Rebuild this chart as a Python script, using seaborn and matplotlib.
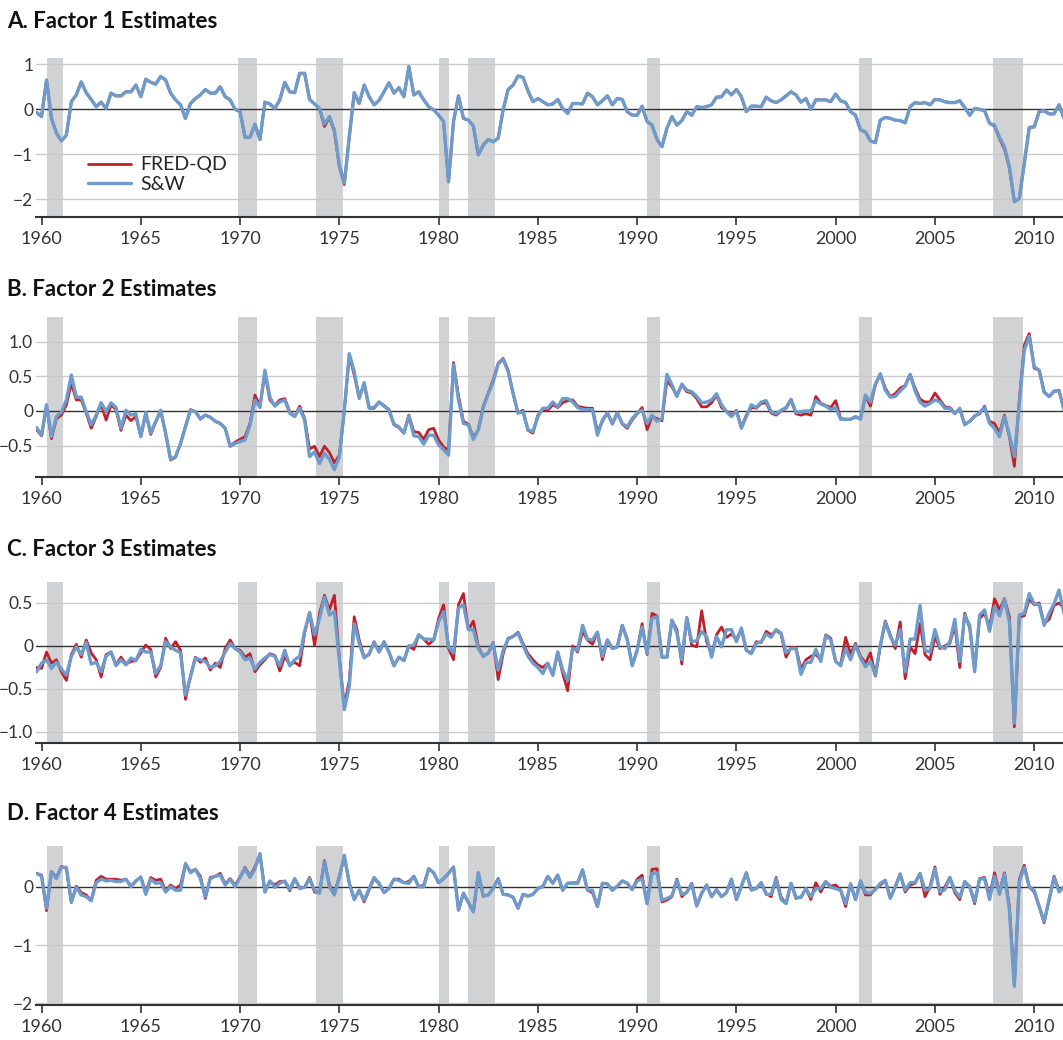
import numpy as np
import pandas as pd
import seaborn as sns
import matplotlib
matplotlib.use("Agg")
import matplotlib.pyplot as plt

# quarterly observations 1959Q4 - 2011Q3
dates = pd.period_range("1959Q4", "2011Q3", freq="Q")
t = dates.year + (dates.quarter - 1) / 4

# NBER recession peaks / troughs (monthly)
rec_start = ["1960-04", "1969-12", "1973-11", "1980-01", "1981-07", "1990-07", "2001-03", "2007-12"]
rec_end = ["1961-02", "1970-11", "1975-03", "1980-07", "1982-11", "1991-03", "2001-11", "2009-06"]

# Factor 1
f1_fred = [-0.07,
    -0.16, 0.65, -0.20, -0.53, -0.70, -0.57, 0.17, 0.32, 0.61, 0.37, 0.22, 0.06,
    0.16, 0.02, 0.36, 0.30, 0.30, 0.39, 0.39, 0.54, 0.28, 0.67, 0.60, 0.56,
    0.73, 0.65, 0.36, 0.21, 0.10, -0.20, 0.13, 0.24, 0.32, 0.44, 0.36, 0.36,
    0.50, 0.28, 0.21, 0.00, -0.05, -0.62, -0.62, -0.33, -0.67, 0.16, 0.12, 0.02,
    0.21, 0.60, 0.39, 0.37, 0.80, 0.80, 0.22, 0.12, 0.02, -0.38, -0.18, -0.50,
    -1.27, -1.67, -0.62, 0.37, 0.13, 0.54, 0.28, 0.10, 0.20, 0.39, 0.59, 0.36,
    0.48, 0.28, 0.95, 0.32, 0.39, 0.21, 0.06, -0.01, -0.13, -0.27, -1.61, -0.27,
    0.30, -0.20, -0.24, -0.37, -1.01, -0.79, -0.67, -0.72, -0.64, -0.01, 0.44, 0.54,
    0.74, 0.71, 0.41, 0.17, 0.24, 0.17, 0.10, 0.12, 0.22, 0.02, -0.09, 0.13,
    0.13, 0.12, 0.36, 0.28, 0.10, 0.19, 0.30, 0.10, 0.24, 0.22, -0.05, -0.13,
    -0.13, 0.07, -0.27, -0.35, -0.67, -0.83, -0.42, -0.16, -0.35, -0.25, -0.05, -0.13,
    0.06, 0.04, 0.06, 0.10, 0.27, 0.28, 0.43, 0.32, 0.44, 0.28, -0.05, 0.07,
    0.07, 0.06, 0.27, 0.19, 0.15, 0.21, 0.30, 0.39, 0.32, 0.16, 0.24, 0.00,
    0.21, 0.21, 0.21, 0.17, 0.34, 0.19, 0.15, -0.05, -0.13, -0.46, -0.50, -0.70,
    -0.74, -0.24, -0.18, -0.20, -0.24, -0.25, -0.30, 0.06, 0.15, 0.13, 0.15, 0.10,
    0.22, 0.21, 0.17, 0.15, 0.15, 0.19, 0.04, -0.13, 0.02, 0.00, -0.03, -0.31,
    -0.37, -0.65, -0.88, -1.30, -2.05, -1.98, -1.20, -0.40, -0.39, -0.05, -0.03, -0.10,
    -0.10, 0.10, -0.20]
f1_sw = [-0.07,
    -0.16, 0.65, -0.20, -0.53, -0.70, -0.57, 0.17, 0.32, 0.61, 0.37, 0.22, 0.06,
    0.16, 0.02, 0.36, 0.30, 0.30, 0.39, 0.39, 0.54, 0.28, 0.67, 0.60, 0.56,
    0.73, 0.65, 0.36, 0.21, 0.10, -0.20, 0.13, 0.24, 0.32, 0.44, 0.36, 0.36,
    0.50, 0.28, 0.21, 0.00, -0.05, -0.62, -0.62, -0.33, -0.67, 0.16, 0.12, 0.02,
    0.21, 0.60, 0.39, 0.37, 0.80, 0.80, 0.22, 0.12, 0.02, -0.33, -0.16, -0.46,
    -1.24, -1.64, -0.60, 0.37, 0.13, 0.54, 0.28, 0.10, 0.20, 0.39, 0.59, 0.36,
    0.48, 0.28, 0.95, 0.32, 0.39, 0.21, 0.06, -0.01, -0.13, -0.27, -1.61, -0.27,
    0.30, -0.20, -0.24, -0.37, -1.01, -0.79, -0.67, -0.72, -0.64, -0.01, 0.44, 0.54,
    0.74, 0.71, 0.41, 0.17, 0.24, 0.17, 0.10, 0.12, 0.22, 0.02, -0.09, 0.13,
    0.13, 0.12, 0.36, 0.28, 0.10, 0.19, 0.30, 0.10, 0.24, 0.22, -0.05, -0.13,
    -0.13, 0.07, -0.27, -0.35, -0.67, -0.83, -0.42, -0.16, -0.35, -0.25, -0.05, -0.13,
    0.06, 0.04, 0.06, 0.10, 0.27, 0.28, 0.43, 0.32, 0.44, 0.28, -0.05, 0.07,
    0.07, 0.06, 0.27, 0.19, 0.15, 0.21, 0.30, 0.39, 0.32, 0.16, 0.24, 0.00,
    0.21, 0.21, 0.21, 0.17, 0.34, 0.19, 0.15, -0.05, -0.13, -0.46, -0.50, -0.70,
    -0.74, -0.24, -0.18, -0.20, -0.24, -0.25, -0.30, 0.06, 0.15, 0.13, 0.15, 0.10,
    0.22, 0.21, 0.17, 0.15, 0.15, 0.19, 0.04, -0.13, 0.02, 0.00, -0.03, -0.31,
    -0.35, -0.62, -0.83, -1.27, -2.05, -1.98, -1.20, -0.40, -0.39, -0.05, -0.03, -0.10,
    -0.10, 0.10, -0.20]

# Factor 2
f2_fred = [-0.27,
    -0.36, 0.07, -0.40, -0.11, -0.06, 0.09, 0.40, 0.16, 0.16, -0.03, -0.25, -0.08,
    0.10, -0.13, 0.09, 0.02, -0.28, -0.06, -0.14, -0.08, -0.37, -0.03, -0.34, -0.16,
    0.00, -0.33, -0.71, -0.67, -0.47, -0.22, 0.02, -0.01, -0.12, -0.06, -0.09, -0.15,
    -0.18, -0.25, -0.51, -0.45, -0.41, -0.37, -0.18, 0.23, 0.07, 0.54, 0.16, 0.08,
    0.16, 0.18, -0.01, -0.08, 0.07, -0.11, -0.55, -0.51, -0.66, -0.51, -0.60, -0.75,
    -0.64, 0.01, 0.81, 0.52, 0.20, 0.38, 0.04, 0.04, 0.13, 0.08, 0.02, -0.20,
    -0.24, -0.32, -0.06, -0.30, -0.31, -0.41, -0.27, -0.25, -0.42, -0.52, -0.57, 0.70,
    0.22, -0.15, -0.19, -0.38, -0.27, 0.07, 0.26, 0.45, 0.69, 0.76, 0.59, 0.25,
    -0.03, 0.01, -0.28, -0.32, -0.06, 0.02, 0.01, 0.09, 0.05, 0.12, 0.15, 0.16,
    0.07, 0.05, 0.04, 0.04, -0.30, -0.15, -0.02, -0.18, -0.02, -0.19, -0.25, -0.13,
    -0.04, 0.05, -0.27, -0.08, -0.11, -0.14, 0.44, 0.35, 0.22, 0.38, 0.28, 0.26,
    0.18, 0.06, 0.06, 0.12, 0.23, 0.05, 0.00, -0.06, 0.01, -0.23, -0.06, 0.05,
    0.04, 0.11, 0.12, -0.03, -0.06, 0.00, 0.04, 0.16, -0.04, -0.06, -0.04, -0.06,
    0.21, 0.11, 0.08, 0.05, 0.15, -0.11, -0.12, -0.12, -0.09, -0.11, 0.22, 0.07,
    0.38, 0.53, 0.33, 0.21, 0.25, 0.33, 0.37, 0.53, 0.33, 0.17, 0.13, 0.13,
    0.26, 0.16, 0.06, 0.05, -0.03, 0.02, -0.19, -0.15, -0.07, -0.04, 0.07, -0.15,
    -0.18, -0.32, -0.06, -0.37, -0.80, 0.16, 0.95, 1.12, 0.62, 0.59, 0.28, 0.21,
    0.28, 0.30, 0.02]
f2_sw = [-0.24,
    -0.35, 0.09, -0.37, -0.08, -0.02, 0.16, 0.52, 0.20, 0.20, -0.01, -0.20, -0.06,
    0.12, -0.01, 0.12, 0.05, -0.25, 0.01, -0.06, -0.04, -0.37, -0.02, -0.32, -0.15,
    0.01, -0.32, -0.70, -0.66, -0.47, -0.23, 0.01, -0.01, -0.11, -0.06, -0.09, -0.15,
    -0.18, -0.25, -0.51, -0.47, -0.44, -0.42, -0.20, 0.16, 0.05, 0.59, 0.20, 0.07,
    0.13, 0.16, -0.03, -0.08, 0.04, -0.13, -0.66, -0.59, -0.76, -0.61, -0.70, -0.85,
    -0.66, 0.01, 0.83, 0.57, 0.18, 0.41, 0.05, 0.05, 0.13, 0.07, 0.01, -0.19,
    -0.23, -0.32, -0.07, -0.36, -0.37, -0.48, -0.35, -0.35, -0.49, -0.56, -0.64, 0.67,
    0.16, -0.18, -0.20, -0.41, -0.27, 0.05, 0.25, 0.42, 0.68, 0.75, 0.57, 0.26,
    -0.03, -0.01, -0.27, -0.30, -0.08, 0.04, 0.04, 0.13, 0.06, 0.18, 0.18, 0.13,
    0.05, 0.02, 0.02, 0.02, -0.35, -0.13, -0.03, -0.19, -0.03, -0.18, -0.23, -0.11,
    -0.03, 0.01, -0.18, -0.06, -0.15, -0.11, 0.53, 0.38, 0.21, 0.39, 0.30, 0.28,
    0.21, 0.12, 0.13, 0.16, 0.25, 0.09, -0.01, -0.08, 0.00, -0.25, -0.08, 0.09,
    0.05, 0.13, 0.15, -0.01, -0.04, 0.01, 0.05, 0.17, -0.02, -0.01, 0.00, 0.00,
    0.15, 0.10, 0.07, 0.02, 0.05, -0.12, -0.12, -0.12, -0.08, -0.12, 0.23, 0.13,
    0.39, 0.54, 0.30, 0.20, 0.21, 0.29, 0.36, 0.53, 0.29, 0.13, 0.07, 0.11,
    0.16, 0.13, 0.04, 0.04, -0.04, 0.04, -0.20, -0.15, -0.08, -0.02, 0.05, -0.18,
    -0.25, -0.37, -0.08, -0.35, -0.66, 0.11, 0.88, 1.08, 0.64, 0.59, 0.27, 0.21,
    0.29, 0.29, 0.02]

# Factor 3
f3_fred = [-0.25,
    -0.26, -0.07, -0.20, -0.16, -0.30, -0.40, -0.10, 0.02, -0.13, 0.07, -0.08, -0.16,
    -0.36, -0.10, -0.07, -0.22, -0.13, -0.21, -0.18, -0.17, -0.08, 0.01, -0.04, -0.36,
    -0.25, 0.09, -0.03, 0.05, -0.05, -0.62, -0.35, -0.13, -0.19, -0.14, -0.28, -0.20,
    -0.25, -0.03, 0.07, -0.03, -0.05, -0.13, -0.09, -0.30, -0.22, -0.16, -0.09, -0.11,
    -0.29, -0.12, -0.22, -0.19, -0.23, 0.15, 0.39, 0.01, 0.38, 0.59, 0.42, 0.59,
    -0.14, -0.70, -0.40, 0.34, 0.07, -0.13, -0.10, 0.05, -0.07, 0.05, -0.07, -0.23,
    -0.13, -0.17, 0.00, -0.04, 0.13, 0.08, 0.02, 0.07, 0.32, 0.48, -0.03, -0.16,
    0.48, 0.61, 0.19, 0.29, -0.01, -0.12, -0.08, 0.04, -0.39, -0.09, 0.09, 0.11,
    0.16, 0.03, -0.09, -0.16, -0.22, -0.25, -0.20, -0.34, -0.07, -0.32, -0.52, 0.00,
    -0.07, 0.17, 0.07, 0.02, 0.16, -0.16, 0.07, -0.03, -0.01, 0.24, 0.08, -0.22,
    -0.05, 0.26, -0.10, 0.38, 0.35, -0.13, -0.13, 0.30, 0.19, -0.21, 0.33, 0.01,
    -0.01, 0.41, 0.05, -0.10, 0.13, 0.22, 0.10, 0.14, 0.08, 0.19, -0.05, -0.08,
    0.05, 0.04, 0.17, 0.13, 0.18, 0.14, -0.13, -0.02, -0.02, -0.27, -0.16, -0.12,
    -0.10, -0.16, 0.13, 0.09, -0.18, -0.22, 0.10, -0.09, 0.03, -0.12, -0.20, -0.08,
    -0.35, 0.00, 0.29, 0.13, -0.03, 0.28, -0.38, -0.01, -0.09, 0.26, -0.10, -0.16,
    0.11, -0.03, 0.00, 0.03, 0.24, -0.25, 0.38, 0.21, -0.26, 0.32, 0.38, 0.22,
    0.55, 0.42, 0.55, 0.34, -0.94, 0.34, 0.35, 0.55, 0.48, 0.50, 0.26, 0.31,
    0.47, 0.50, 0.44]
f3_sw = [-0.30,
    -0.20, -0.16, -0.26, -0.19, -0.27, -0.34, -0.12, -0.01, -0.10, 0.04, -0.21, -0.19,
    -0.30, -0.12, -0.07, -0.23, -0.16, -0.22, -0.14, -0.17, -0.04, -0.07, -0.07, -0.32,
    -0.23, 0.05, -0.01, -0.05, -0.08, -0.57, -0.36, -0.14, -0.16, -0.18, -0.25, -0.23,
    -0.18, -0.07, 0.03, -0.03, -0.07, -0.16, -0.14, -0.27, -0.19, -0.14, -0.10, -0.12,
    -0.23, -0.05, -0.23, -0.16, -0.12, 0.17, 0.39, 0.13, 0.32, 0.57, 0.36, 0.40,
    -0.16, -0.74, -0.47, 0.26, 0.03, -0.14, -0.09, 0.04, -0.07, 0.05, -0.07, -0.23,
    -0.13, -0.17, 0.00, 0.01, 0.13, 0.08, 0.08, 0.07, 0.28, 0.40, -0.01, -0.08,
    0.44, 0.48, 0.19, 0.19, -0.03, -0.12, -0.08, 0.03, -0.28, -0.05, 0.08, 0.11,
    0.15, 0.01, -0.12, -0.20, -0.25, -0.32, -0.20, -0.34, -0.07, -0.28, -0.40, -0.03,
    -0.05, 0.24, 0.08, 0.07, 0.16, -0.12, 0.07, -0.03, -0.01, 0.24, 0.07, -0.23,
    -0.05, 0.22, -0.09, 0.32, 0.34, -0.13, -0.13, 0.30, 0.15, -0.16, 0.33, 0.05,
    0.06, 0.17, 0.11, -0.13, 0.11, -0.01, 0.19, 0.19, 0.05, 0.21, -0.05, -0.09,
    0.03, 0.05, 0.14, 0.10, 0.19, 0.15, -0.08, -0.03, -0.03, -0.33, -0.19, -0.19,
    -0.04, -0.18, 0.12, 0.07, -0.18, -0.23, -0.03, -0.16, 0.01, -0.14, -0.24, -0.18,
    -0.34, 0.01, 0.28, 0.11, 0.01, 0.19, -0.30, 0.08, 0.08, 0.47, -0.05, -0.07,
    0.19, -0.01, -0.03, 0.05, 0.31, -0.18, 0.36, 0.24, -0.30, 0.36, 0.42, 0.17,
    0.46, 0.35, 0.54, 0.28, -0.90, 0.36, 0.38, 0.61, 0.49, 0.48, 0.24, 0.38,
    0.49, 0.65, 0.38]

# Factor 4
f4_fred = [0.23,
    0.20, -0.41, 0.26, 0.16, 0.35, 0.31, -0.27, 0.01, -0.10, -0.14, -0.24, 0.11,
    0.18, 0.13, 0.13, 0.13, 0.11, 0.13, 0.01, 0.10, 0.17, -0.09, 0.16, 0.11,
    0.13, -0.07, 0.03, -0.03, 0.03, 0.39, 0.26, 0.30, 0.18, -0.20, 0.16, 0.18,
    0.23, 0.05, 0.14, 0.03, 0.17, 0.33, 0.18, 0.34, 0.56, -0.09, 0.09, 0.03,
    0.09, 0.09, -0.07, 0.13, -0.01, -0.01, 0.16, -0.09, -0.10, 0.45, 0.03, -0.12,
    0.18, 0.51, 0.07, -0.22, -0.06, -0.26, -0.05, 0.14, 0.05, -0.10, -0.03, 0.13,
    0.13, 0.07, 0.09, 0.18, 0.00, 0.03, 0.31, 0.24, 0.07, 0.14, 0.23, 0.34,
    -0.40, -0.12, -0.27, -0.43, 0.24, -0.16, -0.14, -0.03, 0.14, -0.13, -0.14, -0.18,
    -0.37, -0.13, -0.16, -0.13, -0.03, 0.01, 0.18, 0.06, 0.20, -0.06, 0.06, 0.07,
    0.07, 0.29, -0.06, -0.10, -0.34, 0.06, 0.05, -0.06, 0.01, 0.10, 0.06, -0.05,
    0.13, 0.20, -0.29, 0.30, 0.31, -0.26, -0.23, -0.17, 0.13, -0.17, -0.09, 0.06,
    -0.33, -0.11, 0.03, -0.17, -0.05, -0.17, -0.10, 0.13, -0.22, 0.01, 0.24, -0.06,
    -0.03, 0.07, -0.12, -0.17, 0.16, -0.18, -0.29, 0.06, -0.20, -0.18, -0.03, -0.22,
    0.07, -0.09, 0.09, 0.01, 0.03, -0.06, -0.34, 0.05, -0.22, 0.10, -0.14, -0.14,
    -0.03, 0.03, 0.11, -0.19, 0.00, 0.22, -0.09, 0.03, 0.06, 0.23, -0.17, 0.00,
    0.34, -0.13, 0.00, 0.16, -0.10, -0.22, 0.09, 0.00, -0.29, 0.14, 0.16, -0.17,
    0.24, -0.10, 0.24, -0.34, -1.69, 0.13, 0.37, 0.00, -0.09, -0.34, -0.62, -0.22,
    0.18, -0.06, -0.03]
f4_sw = [0.23,
    0.18, -0.37, 0.26, 0.14, 0.34, 0.33, -0.26, -0.01, -0.14, -0.17, -0.24, 0.07,
    0.13, 0.10, 0.11, 0.09, 0.09, 0.13, 0.00, 0.10, 0.16, -0.13, 0.13, 0.06,
    0.07, -0.09, 0.00, -0.06, -0.06, 0.40, 0.24, 0.30, 0.14, -0.17, 0.14, 0.18,
    0.20, 0.03, 0.13, 0.00, 0.16, 0.31, 0.16, 0.31, 0.57, -0.09, 0.10, -0.01,
    0.06, 0.10, -0.05, 0.14, -0.03, -0.01, 0.14, -0.06, -0.11, 0.43, 0.00, -0.14,
    0.17, 0.54, 0.06, -0.22, -0.06, -0.23, -0.03, 0.16, 0.06, -0.10, -0.03, 0.13,
    0.11, 0.07, 0.06, 0.18, 0.00, 0.00, 0.31, 0.24, 0.07, 0.14, 0.23, 0.34,
    -0.40, -0.11, -0.27, -0.43, 0.24, -0.16, -0.14, -0.03, 0.14, -0.13, -0.14, -0.18,
    -0.37, -0.13, -0.16, -0.13, -0.03, 0.00, 0.18, 0.06, 0.20, -0.06, 0.06, 0.06,
    0.06, 0.29, -0.06, -0.06, -0.34, 0.06, 0.05, -0.06, 0.01, 0.10, 0.06, -0.05,
    0.10, 0.14, -0.29, 0.23, 0.24, -0.23, -0.20, -0.16, 0.11, -0.13, -0.10, 0.05,
    -0.33, -0.11, 0.03, -0.17, -0.05, -0.17, -0.10, 0.13, -0.22, 0.01, 0.24, -0.05,
    -0.03, 0.07, -0.13, -0.13, 0.14, -0.22, -0.29, 0.06, -0.18, -0.18, -0.03, -0.17,
    -0.03, -0.03, 0.09, -0.01, -0.03, -0.06, -0.29, 0.05, -0.22, 0.10, -0.10, -0.11,
    -0.05, 0.06, 0.11, -0.20, 0.00, 0.22, -0.06, 0.07, 0.07, 0.23, -0.06, -0.03,
    0.31, -0.09, -0.05, 0.16, -0.06, -0.18, 0.09, 0.00, -0.26, 0.13, 0.14, -0.22,
    0.18, -0.13, 0.22, -0.40, -1.71, 0.09, 0.33, 0.00, -0.06, -0.34, -0.60, -0.22,
    0.16, -0.09, 0.00]

titles = ["A. Factor 1 Estimates", "B. Factor 2 Estimates",
          "C. Factor 3 Estimates", "D. Factor 4 Estimates"]
yticks = [[1, 0, -1, -2], [1.0, 0.5, 0, -0.5], [0.5, 0, -0.5, -1.0], [0, -1, -2]]
yticklabels = [["1", "0", "\u22121", "\u22122"], ["1.0", "0.5", "0", "\u22120.5"],
               ["0.5", "0", "\u22120.5", "\u22121.0"], ["0", "\u22121", "\u22122"]]
ylims = [(-2.39, 1.14), (-0.955, 1.36), (-1.128, 0.744), (-2.03, 0.70)]
xticks = list(range(1960, 2011, 5))

sns.set_style("white")
plt.rcParams["font.family"] = ["Lato", "DejaVu Sans"]

RED = "#c0202b"
BLUE = "#6d9bcb"
W, H = 1063, 1040
fig = plt.figure(figsize=(W / 100, H / 100), dpi=100)

# (top, bottom) of each panel in pixels
boxes = [(58, 217), (317, 477), (582, 743), (846, 1005)]
title_y = [22, 289, 549, 813]
series = [(f1_fred, f1_sw), (f2_fred, f2_sw), (f3_fred, f3_sw), (f4_fred, f4_sw)]


def yfrac(yearmonth):
    y, m = yearmonth.split("-")
    return int(y) + (int(m) - 1) / 12


for i in range(4):
    top, bot = boxes[i]
    ax = fig.add_axes([36 / W, 1 - bot / H, 1 - 36 / W, (bot - top) / H])
    for s, e in zip(rec_start, rec_end):
        ax.axvspan(yfrac(s), yfrac(e), color="#d1d2d4", lw=0, zorder=0)
    for v in yticks[i]:
        if v == 0:
            ax.axhline(0, color="#333333", lw=1.0, zorder=1)
        else:
            ax.axhline(v, color="#c9c9c9", lw=1.0, zorder=0.5)
    fred, sw = series[i]
    sns.lineplot(x=t, y=fred, ax=ax, color=RED, lw=2.0, zorder=2, label="FRED-QD")
    sns.lineplot(x=t, y=sw, ax=ax, color=BLUE, lw=2.4, zorder=3, label="S&W")
    ax.set_xlim(1959.72, 2011.45)
    ax.set_ylim(*ylims[i])
    ax.set_xticks(xticks)
    ax.set_xticklabels([str(x) for x in xticks])
    ax.set_yticks(yticks[i])
    ax.set_yticklabels(yticklabels[i])
    ax.tick_params(axis="x", length=6, width=1.2, color="#333333", pad=4,
                   labelsize=13, labelcolor="#333333", direction="out", bottom=True)
    ax.tick_params(axis="y", length=0, pad=2, labelsize=12.5, labelcolor="#333333")
    for sp in ["top", "right", "left"]:
        ax.spines[sp].set_visible(False)
    ax.spines["bottom"].set_color("#333333")
    ax.spines["bottom"].set_linewidth(1.5)
    ax.set_xlabel("")
    ax.set_ylabel("")
    if i == 0:
        ax.legend(loc="upper left", bbox_to_anchor=(0.043, 0.43), frameon=False,
                  fontsize=14, handlelength=2.2, handletextpad=0.5,
                  labelspacing=0.12, borderaxespad=0)
    else:
        ax.get_legend().remove()
    fig.text(7 / W, 1 - title_y[i] / H, titles[i], fontsize=16, fontweight="bold",
             va="center", ha="left", color="#111111")

fig.savefig("out.png", dpi=100)
